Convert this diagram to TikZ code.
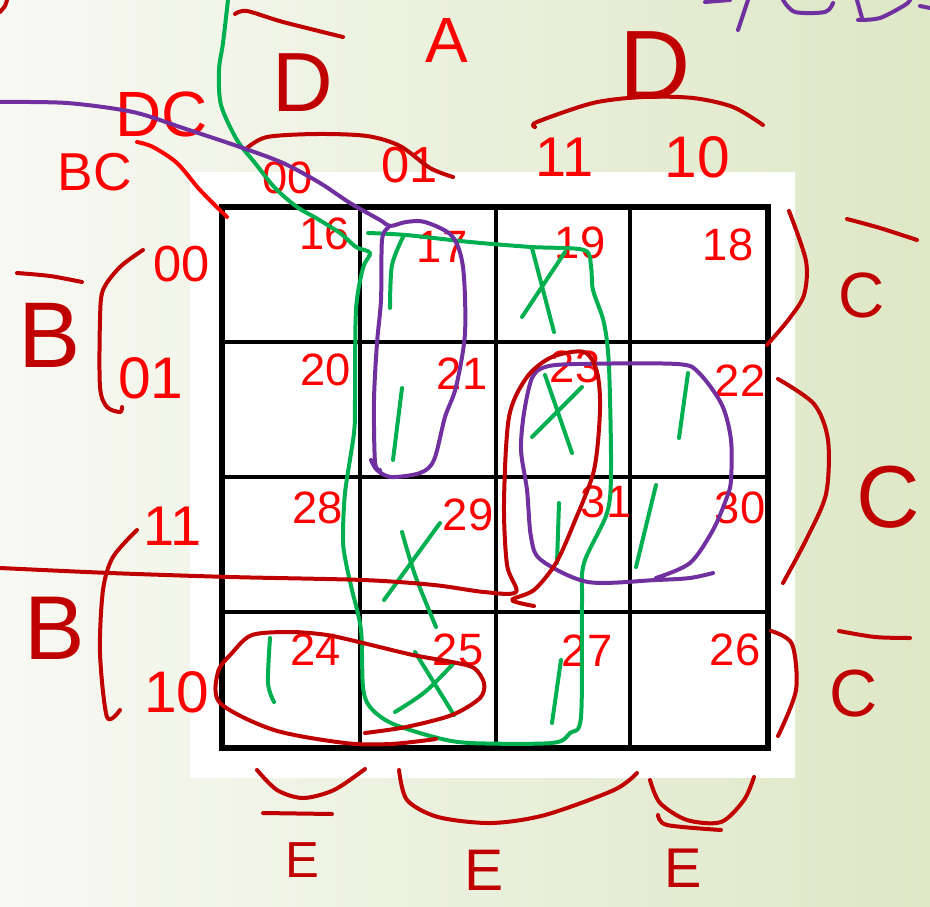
\documentclass[tikz,border=0pt]{standalone}
\usepackage{fontspec}
\setmainfont{Liberation Sans}
\usepackage{xcolor}
\definecolor{penred}{HTML}{FF0000}
\definecolor{inkred}{HTML}{C00000}
\definecolor{pengreen}{HTML}{00B050}
\definecolor{penpurple}{HTML}{7030A0}
\definecolor{bgleft}{HTML}{F8F9F3}
\definecolor{bgright}{HTML}{DEE7C6}
\newcommand{\hw}[1]{\fontsize{#1}{#1}\selectfont}

\begin{document}
\begin{tikzpicture}[x=0.75pt, y=-0.75pt,
  stroke/.style={line width=3pt, line cap=round, line join=round},
  redink/.style={stroke, draw=inkred},
  redpen/.style={stroke, draw=penred},
  greenpen/.style={stroke, draw=pengreen},
  purplepen/.style={stroke, draw=penpurple},
  num/.style={text=penred, font=\hw{34}, inner sep=0pt},
  lab/.style={text=inkred, inner sep=0pt},
  code/.style={text=penred, inner sep=0pt}
]
  \useasboundingbox (0,0) rectangle (930,906);
  \clip (0,0) rectangle (930,906);
  \shade[left color=bgleft, right color=bgright] (0,0) rectangle (930,906);
  \fill[white] (190,172) rectangle (795,778);

  % the map
  \foreach \y in {342,477,612}
    \draw[line width=2.6pt] (222,\y) -- (768,\y);
  \foreach \x in {360,496,630}
    \draw[line width=2.6pt] (\x,207) -- (\x,748);
  \draw[line width=5pt] (222,207) rectangle (768,748);

  \foreach \x/\y/\n in {325/234/16, 442/247/17, 580/243/19, 728/245/18,
                        326/370/20, 462/374/21, 575/367/23, 740/381/22,
                        318/508/28, 468/515/29, 606/502/31, 740/508/30,
                        316/650/24, 458/650/25, 587/651/27, 735/650/26}
    \node[num] (c\n) at (\x,\y) {\n};

  % labels round the map
  \node[code, font=\hw{48}] (varA) at (447,40) {A};
  \node[lab, font=\hw{63}] (varDl) at (303,83) {D};
  \node[lab, font=\hw{74}] (varDr) at (655,66) {D};
  \node[code, font=\hw{48}] (varDC) at (162,114) {DC};
  \node[code, font=\hw{40}] (varBC) at (95,172) {BC};
  \node[code, font=\hw{34}] (col00) at (288,178) {00};
  \node[code, font=\hw{38}] (col01) at (410,165) {01};
  \node[code, font=\hw{42}] (col11) at (565,157) {11};
  \node[code, font=\hw{44}] (col10) at (697,157) {10};
  \node[code, font=\hw{38}] (row00) at (182,264) {00};
  \node[code, font=\hw{44}] (row01) at (151,378) {01};
  \node[code, font=\hw{42}] (row11) at (173,526) {11};
  \node[code, font=\hw{44}] (row10) at (177,692) {10};
  \node[lab, font=\hw{70}] (varBt) at (50,335) {B};
  \node[lab, font=\hw{68}] (varBb) at (55,628) {B};
  \node[lab, font=\hw{48}] (varCa) at (862,295) {C};
  \node[lab, font=\hw{66}] (varCb) at (888,497) {C};
  \node[lab, font=\hw{50}] (varCc) at (854,694) {C};
  \node[lab, font=\hw{38}] (varEa) at (302,860) {E};
  \node[lab, font=\hw{44}] (varEb) at (484,870) {E};
  \node[lab, font=\hw{42}] (varEc) at (683,868) {E};

  % brackets and bars
  \draw[redink] plot[smooth] coordinates {(0,12) (5,6) (7,0)};
  \draw[redink] plot[smooth] coordinates {(235,14) (247,11) (283,22) (343,37)};
  \draw[redink] plot[smooth] coordinates {(247,148) (267,137) (317,134) (367,136) (400,146) (430,168) (453,177)};
  \draw[redink] plot[smooth] coordinates {(535,127) (537,122) (593,103) (643,97) (693,98) (733,107) (763,125)};
  \draw[redpen] plot[smooth] coordinates {(137,142) (153,147) (177,163) (200,190) (227,217)};
  \draw[redink] plot[smooth] coordinates {(17,273) (50,276) (82,282)};
  \draw[redink] plot[smooth] coordinates {(143,250) (120,267) (103,290) (100,320) (100,387) (107,407) (120,412) (122,407)};
  \draw[redink] plot[smooth] coordinates {(137,530) (113,557) (103,590) (100,653) (107,717) (120,710)};
  \draw[redink] plot[smooth] coordinates {(789,211) (806,261) (804,295) (789,319) (767,345)};
  \draw[redink] plot[smooth] coordinates {(847,219) (880,228) (917,240)};
  \draw[redink] plot[smooth] coordinates {(778,379) (814,404) (828,440) (826,494) (806,540) (783,583)};
  \draw[redink] plot[smooth] coordinates {(771,631) (792,644) (796,690) (778,736)};
  \draw[redink] plot[smooth] coordinates {(839,631) (875,637) (910,638)};
  \draw[redink] plot[smooth] coordinates {(257,770) (277,790) (303,798) (334,790) (365,769)};
  \draw[redink] (263,813) -- (332,814);
  \draw[redink] plot[smooth] coordinates {(399,770) (407,800) (438,817) (491,823) (545,815) (614,790) (637,773)};
  \draw[redink] plot[smooth] coordinates {(650,780) (660,803) (687,820) (721,822) (744,800) (754,777)};
  \draw[redink] plot[smooth] coordinates {(658,815) (667,825) (721,830)};

  % groups
  \draw[greenpen] plot[smooth] coordinates {(228,0) (223,43) (219,70) (221,105) (237,140) (255,163) (275,188)
    (297,207) (316,218) (340,233) (356,247) (370,253) (363,268) (356,310) (355,400) (354,433) (345,493)
    (343,540) (346,563) (352,590) (361,630) (363,687) (370,707) (391,723) (434,737) (470,743) (552,743)
    (570,733) (581,717) (582,603) (584,563) (607,513) (611,470) (609,367) (604,323) (593,290) (591,267)
    (584,250) (531,247) (470,242) (406,235) (368,233)};
  \draw[greenpen] plot[smooth] coordinates {(390,308) (392,265) (404,235)};
  \draw[greenpen] (532,248) -- (554,332);
  \draw[greenpen] (565,252) -- (522,317);
  \draw[greenpen] (402,388) -- (393,460);
  \draw[greenpen] (545,375) -- (572,453);
  \draw[greenpen] (582,387) -- (532,437);
  \draw[greenpen] (688,373) -- (679,438);
  \draw[greenpen] (559,503) -- (557,563);
  \draw[greenpen] (656,485) -- (636,567);
  \draw[greenpen] plot[smooth] coordinates {(402,532) (415,575) (436,627)};
  \draw[greenpen] (440,523) -- (384,600);
  \draw[greenpen] plot[smooth] coordinates {(270,638) (268,683) (274,702)};
  \draw[greenpen] (415,652) -- (454,715);
  \draw[greenpen] plot[smooth] coordinates {(454,663) (425,692) (395,712)};
  \draw[greenpen] (561,660) -- (552,723);

  \draw[purplepen] plot[smooth] coordinates {(0,102) (67,103) (133,112) (183,128) (240,147) (283,163)
    (320,183) (350,203) (380,220) (390,226) (406,222) (425,222) (452,236) (463,267) (465,333) (456,387)
    (445,417) (434,460) (420,473) (391,477) (377,470) (371,460)};
  \draw[purplepen] plot[smooth] coordinates {(388,228) (382,240) (381,300) (377,343) (374,400) (375,462) (380,470)};
  \draw[purplepen] plot[smooth] coordinates {(713,573) (690,578) (656,580) (588,582) (541,560) (531,537)
    (527,490) (521,450) (524,413) (532,378) (545,367) (577,364) (677,364) (699,373) (722,405) (731,440)
    (731,480) (727,497) (713,530) (690,563) (656,578)};
  \draw[purplepen] (748,0) -- (738,30);
  \draw[purplepen] (705,2) -- (730,0);
  \draw[purplepen] plot[smooth] coordinates {(783,0) (795,12) (825,12) (833,3)};
  \draw[purplepen] (857,0) -- (862,18);
  \draw[purplepen] plot[smooth] coordinates {(858,20) (880,18) (905,5) (910,0)};
  \draw[purplepen] plot[smooth] coordinates {(920,6) (930,8)};

  \draw[redink] plot[smooth] coordinates {(0,568) (110,573) (230,577) (363,580) (434,585) (484,592)
    (516,592) (507,565) (504,503) (509,417) (527,377) (552,357) (584,352) (597,372) (600,410) (594,470)
    (574,523) (556,563) (534,590) (512,600) (534,606)};
  \draw[redink] plot[smooth] coordinates {(365,733) (406,727) (452,715) (480,698) (484,683) (474,668)
    (452,662) (413,655) (363,643) (327,635) (291,632) (252,635) (232,653) (218,672) (220,703) (274,730)
    (345,743) (391,744) (436,739)};
\end{tikzpicture}
\end{document}
